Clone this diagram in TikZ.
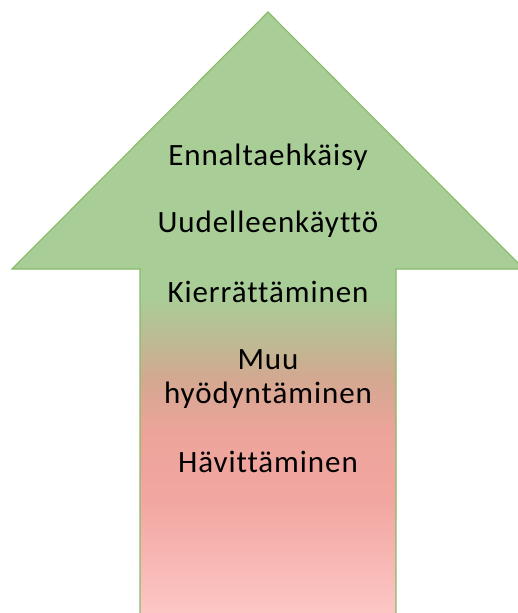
\documentclass[tikz,border=0pt]{standalone}
\usepackage{fontspec}
\setmainfont{Carlito}[LetterSpace=3, Ligatures=NoCommon]
\usetikzlibrary{positioning}
\definecolor{leafCol}{HTML}{A9CD97}
\definecolor{oliveCol}{HTML}{BDBB93}
\definecolor{tanCol}{HTML}{D4A891}
\definecolor{salmonCol}{HTML}{ECA49A}
\definecolor{roseCol}{HTML}{F2A6A1}
\definecolor{blushCol}{HTML}{FDCAC8}
\definecolor{edgeCol}{HTML}{86BC66}
\tikzset{
  stage/.style={font=\fontsize{31}{34}\selectfont, text=black, align=center,
                inner sep=0pt, anchor=base},
  rim/.style={draw=edgeCol, line width=1.1pt, line join=miter},
}
% the big arrow outline (x right, y down, in px)
\newcommand{\arrowpath}{(268,12) -- (524,269) -- (396,269) -- (396,640)
  -- (140,640) -- (140,269) -- (12,269) -- cycle}

\begin{document}
\begin{tikzpicture}[x=1pt,y=-1pt]
  \clip (0,0) rectangle (518,613);
  \begin{scope}
    \clip \arrowpath;
    \fill[leafCol] (0,0) rectangle (530,295);
    \shade[top color=leafCol, bottom color=oliveCol] (0,295) rectangle (530,340);
    \shade[top color=oliveCol, bottom color=tanCol] (0,340) rectangle (530,380);
    \shade[top color=tanCol, bottom color=salmonCol] (0,380) rectangle (530,430);
    \shade[top color=salmonCol, bottom color=roseCol] (0,430) rectangle (530,500);
    \shade[top color=roseCol, bottom color=blushCol] (0,500) rectangle (530,625);
  \end{scope}
  \draw[rim] \arrowpath;

  \node[stage] (prevent) at (268,165) {Ennaltaehkäisy};
  \node[stage] (reuse)   at (268,232) {Uudelleenkäyttö};
  \node[stage] (recycle) at (268,302) {Kierrättäminen};
  \node[stage] (other)   at (268,403) {Muu\\hyödyntäminen};
  \node[stage] (dispose) at (268,472) {Hävittäminen};
\end{tikzpicture}
\end{document}
